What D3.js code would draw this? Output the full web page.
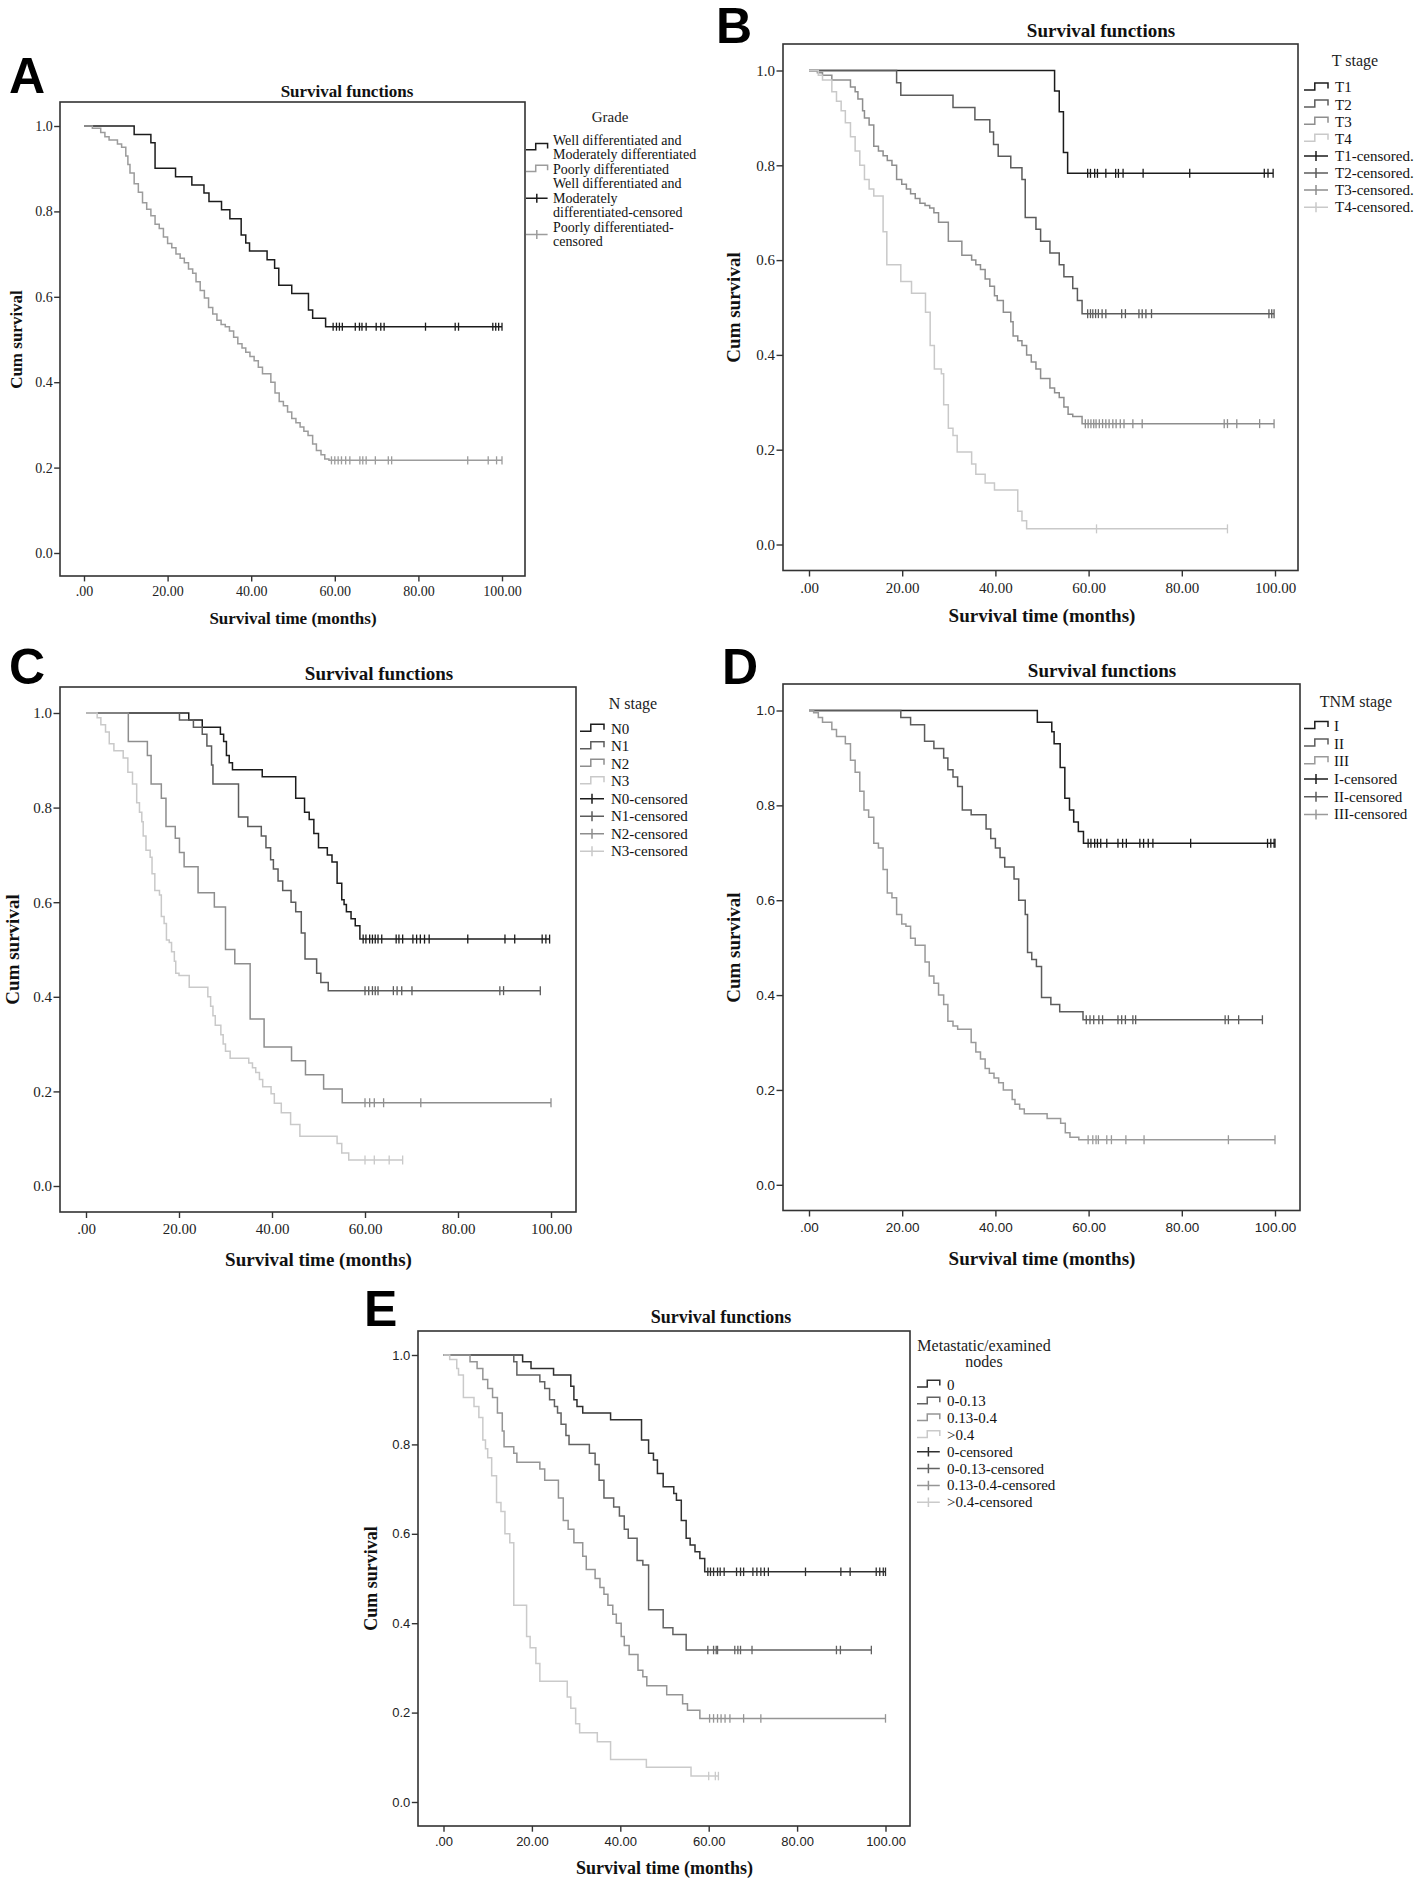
<!DOCTYPE html>
<html><head><meta charset="utf-8">
<script src="https://cdn.jsdelivr.net/npm/d3@7/dist/d3.min.js"></script>
<style>body{margin:0;background:#fff}svg{display:block}</style>
</head><body>
<svg id="chart" width="1417" height="1886"></svg>
<script>
// ---------------- DATA ----------------
const chartTitle = "Survival functions";
const xAxisTitle = "Survival time (months)";
const yAxisTitle = "Cum survival";
const timeTicks = [0, 20, 40, 60, 80, 100];
const survTicks = [0, 0.2, 0.4, 0.6, 0.8, 1.0];

// Panel A : Grade   ([time, survival after drop])
const gradeWellSteps = [[12,0.980],[16,0.961],[17,0.901],[21.9,0.881],[25.8,0.862],[28.7,0.843],[29.9,0.823],[32.9,0.804],[34.9,0.783],[37.6,0.745],[38.7,0.726],[39.6,0.707],[43.8,0.687],[45.6,0.667],[46.6,0.627],[49.7,0.608],[53.7,0.569],[54.7,0.550],[57.8,0.530]];
const gradeWellCens = [59.6,60.4,61.1,61.8,64.9,65.9,66.5,67.5,69.9,71.0,71.8,81.7,88.8,89.6,97.8,98.5,99.2,100];
const gradePoorSteps = [[2,0.995],[4,0.985],[5,0.975],[6,0.967],[8,0.958],[9,0.95],[10,0.93],[10.5,0.91],[11,0.89],[12,0.865],[13,0.845],[14,0.82],[15,0.805],[16,0.79],[17,0.77],[18,0.76],[19,0.74],[20,0.725],[21,0.715],[22,0.70],[23,0.69],[24,0.68],[25,0.665],[26,0.655],[26.8,0.635],[27.8,0.615],[28.8,0.597],[29.8,0.575],[30.8,0.56],[31.8,0.545],[32.8,0.535],[33.8,0.53],[34.8,0.52],[35.8,0.505],[36.8,0.49],[37.8,0.48],[38.7,0.47],[39.7,0.46],[40.7,0.45],[41.7,0.435],[42.7,0.42],[44.7,0.40],[45.7,0.375],[46.7,0.355],[47.7,0.345],[48.7,0.33],[49.7,0.315],[50.7,0.305],[51.7,0.295],[52.6,0.285],[53.6,0.275],[54.7,0.255],[55.6,0.24],[56.7,0.23],[57.6,0.22],[58.6,0.217]];
const gradePoorCens = [59.2,60,60.8,61.6,62.6,63.6,66,66.7,67.5,69.7,72.8,73.6,91.8,96.7,98.7,100];

// Panel B : T stage
const t1Steps = [[52.7,0.957],[53.7,0.913],[54.6,0.827],[55.5,0.783]];
const t1Cens = [59.8,60.4,61.3,61.9,63.7,65.8,66.4,67.4,71.7,81.7,97.7,98.5,99.6];
const t2Steps = [[18.8,0.974],[19.7,0.948],[30.9,0.922],[35.6,0.896],[38.8,0.870],[39.6,0.844],[40.6,0.819],[43.3,0.795],[45.7,0.77],[46.4,0.69],[48.7,0.665],[49.7,0.64],[51.7,0.615],[53.7,0.59],[54.7,0.565],[56.6,0.54],[57.6,0.515],[58.6,0.487]];
const t2Cens = [59.8,60.4,60.9,61.5,62.1,62.9,63.7,67.1,67.9,70.8,71.5,72.3,73.5,98.7,99.3,99.8];
const t3Steps = [[1.8,0.995],[2.9,0.99],[4.9,0.98],[8.9,0.965],[9.9,0.955],[10.5,0.94],[11.5,0.915],[11.9,0.9],[12.9,0.885],[13.9,0.84],[14.9,0.83],[15.9,0.82],[16.8,0.81],[17.8,0.80],[18.8,0.77],[19.9,0.76],[20.9,0.75],[21.8,0.74],[22.8,0.73],[23.8,0.72],[24.9,0.715],[25.9,0.71],[26.8,0.70],[27.8,0.68],[29.9,0.64],[32.8,0.61],[34.9,0.60],[35.8,0.59],[36.8,0.58],[37.8,0.56],[38.8,0.545],[39.8,0.525],[40.4,0.515],[41.7,0.49],[43.3,0.47],[43.8,0.44],[44.8,0.43],[45.7,0.42],[46.7,0.40],[47.7,0.385],[48.7,0.37],[49.7,0.35],[51.7,0.33],[52.7,0.32],[53.7,0.31],[54.7,0.29],[55.6,0.275],[56.6,0.27],[58.6,0.255]];
const t3Cens = [59.3,59.9,60.5,61.1,61.6,62.3,63.0,63.7,64.4,65.2,65.9,66.8,67.6,69.5,71.5,89.1,89.8,91.8,96.7,99.8];
const t4Steps = [[2,0.99],[2.9,0.98],[4.9,0.955],[5.9,0.935],[6.9,0.915],[7.8,0.89],[8.9,0.86],[9.9,0.83],[10.9,0.80],[11.9,0.77],[12.9,0.75],[13.9,0.735],[15.9,0.66],[16.7,0.59],[19.7,0.555],[22,0.53],[25,0.49],[26,0.42],[26.9,0.37],[28.4,0.36],[28.9,0.295],[29.9,0.245],[30.9,0.23],[31.8,0.195],[34.9,0.17],[35.8,0.148],[37.8,0.13],[39.8,0.115],[44.8,0.07],[45.7,0.05],[46.7,0.033]];
const t4Cens = [61.7,89.8];

// Panel C : N stage
const n0Steps = [[22.1,0.985],[25,0.97],[28.9,0.955],[29.6,0.94],[30.2,0.91],[30.8,0.895],[31.5,0.88],[37.9,0.865],[45.1,0.82],[47,0.79],[48,0.775],[49,0.745],[50,0.715],[51.9,0.70],[52.9,0.685],[54,0.64],[55,0.605],[55.5,0.595],[56,0.58],[57,0.565],[57.9,0.55],[58.9,0.522]];
const n0Cens = [59.6,60.2,61,61.6,62.2,62.8,63.6,66.7,67.3,68.1,70.3,71.1,71.9,72.8,73.8,82.1,90.1,92.2,98.1,98.9,99.7];
const n1Steps = [[20.1,0.985],[23.1,0.97],[25,0.955],[26,0.93],[27,0.89],[27.3,0.85],[32.8,0.78],[34.8,0.76],[37.7,0.74],[38.7,0.715],[39.7,0.69],[40.3,0.67],[41.3,0.645],[42.3,0.625],[44.1,0.60],[45.1,0.58],[46.3,0.535],[47.1,0.48],[49.6,0.45],[50.5,0.43],[52.1,0.413]];
const n1Cens = [60,60.8,61.6,62.2,62.8,66.1,66.9,67.9,70.1,89,89.8,97.7];
const n2Steps = [[9.1,0.94],[13.2,0.91],[14,0.85],[16.2,0.82],[17.2,0.76],[19.2,0.735],[20.1,0.705],[21.1,0.675],[24.1,0.62],[27.6,0.59],[30,0.50],[32,0.47],[35.3,0.353],[38.3,0.294],[44.2,0.265],[47.2,0.235],[51.1,0.205],[55.1,0.176]];
const n2Cens = [60,61,62,64,72,100];
const n3Steps = [[2.4,0.99],[3.2,0.975],[4.2,0.96],[5,0.935],[6,0.92],[8,0.905],[9,0.875],[10,0.85],[10.9,0.81],[11.5,0.79],[12,0.77],[12.3,0.74],[12.9,0.71],[13.8,0.695],[14.2,0.66],[14.8,0.625],[15.8,0.615],[16.2,0.57],[16.8,0.555],[17.3,0.52],[17.9,0.515],[18.4,0.495],[19,0.475],[19.3,0.45],[20,0.445],[22.2,0.42],[26.2,0.40],[26.8,0.38],[27.3,0.36],[27.8,0.34],[29,0.32],[29.5,0.30],[30,0.285],[31,0.27],[35,0.26],[35.8,0.25],[36.5,0.24],[37.3,0.225],[38,0.21],[39.8,0.195],[40.5,0.175],[42,0.155],[44,0.13],[46,0.105],[54,0.09],[55,0.07],[56.5,0.055]];
const n3Cens = [60,62,65.2,68.1];

// Panel D : TNM stage
const s1Steps = [[49,0.975],[52.1,0.955],[52.6,0.93],[53.9,0.88],[54.9,0.815],[55.9,0.79],[56.8,0.765],[57.8,0.745],[58.9,0.72]];
const s1Cens = [59.9,60.5,61.3,61.9,62.6,63.9,66.3,67.3,68.1,71.0,71.8,72.8,73.8,81.9,98.4,99.1,99.8,100];
const s2Steps = [[19.7,0.985],[21.8,0.97],[24.8,0.935],[26.8,0.92],[28.9,0.90],[29.8,0.875],[30.9,0.86],[31.9,0.84],[32.9,0.79],[34.8,0.78],[38,0.75],[39,0.73],[40,0.71],[41,0.69],[42,0.67],[44,0.645],[45,0.60],[46.4,0.57],[46.9,0.49],[47.8,0.475],[48.8,0.46],[49.9,0.395],[51.9,0.38],[53.8,0.365],[58.8,0.348]];
const s2Cens = [59.5,60.3,61.1,62.2,63,66.3,67.1,67.9,69.5,70.1,89.3,90,92.2,97.3];
const s3Steps = [[1,0.995],[2,0.985],[2.9,0.975],[4.9,0.96],[5.9,0.945],[7.8,0.93],[8.9,0.895],[9.9,0.87],[10.9,0.83],[11.8,0.79],[12.8,0.775],[13.9,0.72],[14.9,0.71],[15.9,0.665],[16.8,0.615],[17.8,0.605],[18.8,0.57],[19.9,0.55],[20.8,0.545],[21.8,0.52],[22.8,0.505],[24.9,0.47],[25.8,0.44],[26.8,0.425],[27.8,0.40],[28.9,0.38],[29.8,0.345],[30.9,0.335],[31.9,0.328],[34.8,0.30],[35.8,0.28],[36.8,0.265],[37.8,0.245],[38.7,0.235],[39.7,0.225],[40.7,0.215],[41.7,0.20],[43.6,0.18],[44.2,0.17],[45.2,0.16],[46.2,0.15],[51.1,0.14],[54,0.13],[55,0.11],[56,0.10],[57.9,0.095]];
const s3Cens = [59.9,60.9,61.6,62.1,63.9,64.9,68,71.9,90,100];

// Panel E : Metastatic/examined nodes ratio
const r0Steps = [[17.9,0.985],[19.8,0.97],[24.9,0.955],[28.8,0.93],[29.5,0.90],[30.2,0.885],[31.5,0.87],[37.8,0.855],[44.8,0.81],[46.4,0.78],[47.5,0.765],[48.4,0.735],[49.7,0.705],[52.1,0.69],[52.7,0.675],[53.8,0.63],[54.9,0.59],[55.8,0.575],[56.9,0.56],[58,0.545],[59.1,0.515]];
const r0Cens = [59.8,60.4,61.1,62,62.6,63.5,66.3,67.2,67.9,70,70.9,71.8,72.6,73.5,81.9,89.9,92,97.9,98.7,99.5,100];
const r1Steps = [[15.9,0.985],[16.6,0.955],[21.8,0.94],[22.9,0.925],[24,0.90],[25.1,0.885],[25.8,0.87],[26.6,0.845],[27.7,0.82],[28.4,0.80],[33,0.78],[34.3,0.755],[35.2,0.72],[36.3,0.68],[38.5,0.66],[39.8,0.64],[40.9,0.61],[41.8,0.59],[43.8,0.54],[45.1,0.53],[46.4,0.43],[49.7,0.39],[51.9,0.375],[54.9,0.34]];
const r1Cens = [59.8,61.1,61.7,62,65.9,66.6,67.2,69.8,88.9,89.8,96.8];
const r2Steps = [[6,0.985],[7.6,0.97],[8.9,0.945],[10,0.925],[11.1,0.905],[12.2,0.87],[13.3,0.83],[13.7,0.795],[15.9,0.78],[16.6,0.76],[21.8,0.745],[22.9,0.72],[26,0.68],[27.1,0.63],[28.2,0.61],[29.5,0.58],[31.5,0.55],[32.3,0.52],[34.3,0.50],[35.4,0.48],[36.3,0.465],[37.2,0.44],[38.3,0.42],[39.1,0.40],[40.2,0.37],[40.9,0.35],[42,0.33],[44,0.295],[45.1,0.28],[46,0.26],[50.5,0.24],[54.1,0.22],[55.2,0.205],[58,0.187]];
const r2Cens = [60.2,61.1,62,62.8,63.7,64.8,67.9,71.8,100];
const r3Steps = [[1.4,0.99],[3,0.97],[3.4,0.955],[4.5,0.905],[6.9,0.885],[8,0.86],[8.9,0.81],[9.5,0.79],[10,0.77],[10.9,0.73],[12,0.67],[13,0.65],[13.9,0.60],[15,0.58],[15.9,0.44],[18.8,0.37],[19.6,0.345],[20.9,0.31],[21.8,0.27],[28,0.235],[28.8,0.21],[29.9,0.175],[30.8,0.155],[34.8,0.135],[37.8,0.095],[45.9,0.078],[56,0.058]];
const r3Cens = [60,61.5,62.2];

// Legend labels
const legendTitleA = ["Grade"];
const legendLabelsA = [["Well differentiated and","Moderately differentiated"],["Poorly differentiated"],["Well differentiated and","Moderately","differentiated-censored"],["Poorly differentiated-","censored"]];
const legendTitleB = ["T stage"];
const legendLabelsB = ["T1","T2","T3","T4","T1-censored.","T2-censored.","T3-censored.","T4-censored."];
const legendTitleC = ["N stage"];
const legendLabelsC = ["N0","N1","N2","N3","N0-censored","N1-censored","N2-censored","N3-censored"];
const legendTitleD = ["TNM stage"];
const legendLabelsD = ["I","II","III","I-censored","II-censored","III-censored"];
const legendTitleE = ["Metastatic/examined","nodes"];
const legendLabelsE = ["0","0-0.13","0.13-0.4",">0.4","0-censored","0-0.13-censored","0.13-0.4-censored",">0.4-censored"];

// ---------------- DRAWING ----------------
const SERIF = '"Liberation Serif","Times New Roman",serif';
const SANS = '"Liberation Sans",Arial,sans-serif';
const C1 = "#1c1c1c", C2 = "#5c5c5c", C3 = "#8e8e8e", C4 = "#c9c9c9";

const panels = [
  { id:"A", frame:[60,525,102,576], xr:[84,502], yr:[553,126], k:0.9, tickFam:SERIF, tickSize:14,
    letter:[9,93], titleXY:[347,91], xTitleY:618, yTitleX:16, fontBig:17,
    series:[{steps:gradeWellSteps,cens:gradeWellCens,color:C1},{steps:gradePoorSteps,cens:gradePoorCens,color:"#9c9c9c"}],
    legend:{title:legendTitleA, titleX:610, titleY:[117.4], glyphX:526, textX:553, firstY:140.3, dy:14.5, font:14,
      entries:legendLabelsA.map((l,i)=>({lines:l, type:i<2?"step":"cens", color:[C1,"#9c9c9c"][i%2]}))} },
  { id:"B", frame:[783,1298,44,570.5], xr:[809,1275], yr:[544.5,70.5], k:1, tickFam:SERIF, tickSize:15,
    letter:[716,43], titleXY:[1101,31], xTitleY:615.5, yTitleX:734, fontBig:19,
    series:[{steps:t1Steps,cens:t1Cens,color:C1},{steps:t2Steps,cens:t2Cens,color:C2},{steps:t3Steps,cens:t3Cens,color:C3},{steps:t4Steps,cens:t4Cens,color:C4}],
    legend:{title:legendTitleB, titleX:1355, titleY:[61], glyphX:1304, textX:1335, firstY:87.5, dy:17.1, font:15,
      entries:legendLabelsB.map((l,i)=>({lines:[l], type:i<4?"step":"cens", color:[C1,C2,C3,C4][i%4]}))} },
  { id:"C", frame:[60,576,687,1212], xr:[86,551], yr:[1186,713], k:1, tickFam:SERIF, tickSize:15,
    letter:[9,684], titleXY:[379,673.5], xTitleY:1259.6, yTitleX:13, fontBig:19,
    series:[{steps:n0Steps,cens:n0Cens,color:C1},{steps:n1Steps,cens:n1Cens,color:C2},{steps:n2Steps,cens:n2Cens,color:C3},{steps:n3Steps,cens:n3Cens,color:C4}],
    legend:{title:legendTitleC, titleX:633, titleY:[704], glyphX:580, textX:611, firstY:728.8, dy:17.5, font:15,
      entries:legendLabelsC.map((l,i)=>({lines:[l], type:i<4?"step":"cens", color:[C1,C2,C3,C4][i%4]}))} },
  { id:"D", frame:[783,1300,684,1210.5], xr:[809,1275], yr:[1184.8,710.5], k:1, tickFam:SANS, tickSize:13.5,
    letter:[722,684], titleXY:[1102,670.7], xTitleY:1258.8, yTitleX:734, fontBig:19,
    series:[{steps:s1Steps,cens:s1Cens,color:C1},{steps:s2Steps,cens:s2Cens,color:C2},{steps:s3Steps,cens:s3Cens,color:"#9a9a9a"}],
    legend:{title:legendTitleD, titleX:1356, titleY:[701.3], glyphX:1304, textX:1334, firstY:725.9, dy:17.7, font:15,
      entries:legendLabelsD.map((l,i)=>({lines:[l], type:i<3?"step":"cens", color:[C1,C2,"#9a9a9a"][i%3]}))} },
  { id:"E", frame:[418,910,1331,1826], xr:[443.5,885.5], yr:[1802,1355], k:0.95, tickFam:SANS, tickSize:13,
    letter:[364,1326], titleXY:[721,1317], xTitleY:1868.5, yTitleX:371, fontBig:18,
    series:[{steps:r0Steps,cens:r0Cens,color:"#303030"},{steps:r1Steps,cens:r1Cens,color:"#626262"},{steps:r2Steps,cens:r2Cens,color:"#959595"},{steps:r3Steps,cens:r3Cens,color:"#cacaca"}],
    legend:{title:legendTitleE, titleX:984, titleY:[1346,1361.5], glyphX:917, textX:947, firstY:1384.6, dy:16.8, font:15,
      entries:legendLabelsE.map((l,i)=>({lines:[l], type:i<4?"step":"cens", color:["#303030","#626262","#959595","#cacaca"][i%4]}))} }
];

const svg = d3.select("#chart");
svg.append("rect").attr("width",1417).attr("height",1886).attr("fill","#fff");

const fmtTime = d => d === 0 ? ".00" : d.toFixed(2);
const fmtSurv = d => d.toFixed(1);

function survAt(steps, t) {
  let s = 1;
  for (const [ti, si] of steps) { if (ti <= t) s = si; else break; }
  return s;
}

panels.forEach(P => {
  const g = svg.append("g");
  const k = P.k;
  const x = d3.scaleLinear().domain([0,100]).range(P.xr);
  const y = d3.scaleLinear().domain([0,1]).range(P.yr);
  const [fl, fr, ft, fb] = P.frame;

  // panel letter
  g.append("text").attr("x",P.letter[0]).attr("y",P.letter[1])
    .attr("font-family",SANS).attr("font-weight","bold").attr("font-size",50).attr("fill","#000").text(P.id);
  // title
  g.append("text").attr("x",P.titleXY[0]).attr("y",P.titleXY[1]).attr("dy","0.33em")
    .attr("text-anchor","middle").attr("font-family",SERIF).attr("font-weight","bold")
    .attr("font-size",P.fontBig).attr("fill","#111").text(chartTitle);

  // axes
  const xa = g.append("g").attr("transform",`translate(0,${fb})`)
    .call(d3.axisBottom(x).tickValues(timeTicks).tickFormat(fmtTime).tickSize(6*k).tickPadding(5.5*k));
  const ya = g.append("g").attr("transform",`translate(${fl},0)`)
    .call(d3.axisLeft(y).tickValues(survTicks).tickFormat(fmtSurv).tickSize(6.5*k).tickPadding(1.5));
  [xa, ya].forEach(a => {
    a.select(".domain").remove();
    a.selectAll(".tick line").attr("stroke","#333").attr("stroke-width",1.4);
    a.selectAll(".tick text").attr("font-family",P.tickFam).attr("font-size",P.tickSize).attr("fill","#222");
  });

  // frame
  g.append("rect").attr("x",fl).attr("y",ft).attr("width",fr-fl).attr("height",fb-ft)
    .attr("fill","none").attr("stroke","#333").attr("stroke-width",1.6);

  // axis titles
  g.append("text").attr("x",(P.xr[0]+P.xr[1])/2).attr("y",P.xTitleY).attr("dy","0.33em")
    .attr("text-anchor","middle").attr("font-family",SERIF).attr("font-weight","bold")
    .attr("font-size",P.fontBig).attr("fill","#111").text(xAxisTitle);
  g.append("text").attr("transform",`translate(${P.yTitleX},${(P.yr[0]+P.yr[1])/2}) rotate(-90)`)
    .attr("dy","0.33em").attr("text-anchor","middle").attr("font-family",SERIF).attr("font-weight","bold")
    .attr("font-size",P.fontBig).attr("fill","#111").text(yAxisTitle);

  // curves
  P.series.forEach(S => {
    const end = Math.max(S.steps[S.steps.length-1][0], d3.max(S.cens));
    const p = d3.path();
    let cur = 1;
    p.moveTo(x(0), y(1));
    S.steps.forEach(([t, s]) => { p.lineTo(x(t), y(cur)); p.lineTo(x(t), y(s)); cur = s; });
    p.lineTo(x(end), y(cur));
    g.append("path").attr("d", p.toString()).attr("fill","none").attr("stroke",S.color)
      .attr("stroke-width",1.5).attr("stroke-linejoin","miter");
    g.selectAll(null).data(S.cens).enter().append("line")
      .attr("x1",d=>x(d)).attr("x2",d=>x(d))
      .attr("y1",d=>y(survAt(S.steps,d))-4.5*k).attr("y2",d=>y(survAt(S.steps,d))+4.5*k)
      .attr("stroke",S.color).attr("stroke-width",1.3);
  });

  // legend
  const L = P.legend;
  L.title.forEach((t,i) => {
    g.append("text").attr("x",L.titleX).attr("y",L.titleY[i]).attr("dy","0.33em").attr("text-anchor","middle")
      .attr("font-family",SERIF).attr("font-size",L.font+1).attr("fill","#222").text(t);
  });
  let line = 0;
  L.entries.forEach(E => {
    const n = E.lines.length;
    const cy = L.firstY + (line + (n-1)/2) * L.dy;
    const gx = L.glyphX, w = 24*k;
    if (E.type === "step") {
      g.append("path").attr("d",`M${gx},${cy+2.5*k}H${gx+w*0.45}V${cy-4.5*k}H${gx+w}V${cy+1*k}`)
        .attr("fill","none").attr("stroke",E.color).attr("stroke-width",1.5);
    } else {
      g.append("path").attr("d",`M${gx},${cy}H${gx+w}M${gx+w/2},${cy-5*k}V${cy+5*k}`)
        .attr("fill","none").attr("stroke",E.color).attr("stroke-width",1.5);
    }
    E.lines.forEach((t,j) => {
      g.append("text").attr("x",L.textX).attr("y",L.firstY + (line+j)*L.dy).attr("dy","0.33em")
        .attr("font-family",SERIF).attr("font-size",L.font).attr("fill","#111").text(t);
    });
    line += n;
  });
});
</script>
</body></html>
